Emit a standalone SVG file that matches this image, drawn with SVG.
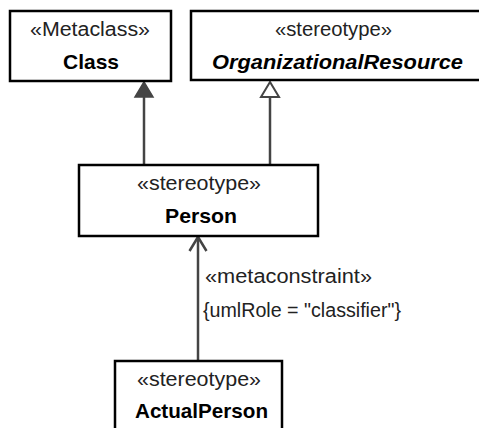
<svg xmlns="http://www.w3.org/2000/svg" width="479" height="428" viewBox="0 0 479 428">
<style>
.box{fill:#fff;stroke:#000;stroke-width:2.5}
.st{font-family:"Liberation Sans",Arial,sans-serif;font-size:19.5px;fill:#222}
.nm{font-family:"Liberation Sans",Arial,sans-serif;font-size:20.5px;font-weight:bold;fill:#000}
.it{font-style:italic}
.ln{stroke:#444;stroke-width:2.5;fill:none}
</style>
<rect width="479" height="428" fill="#fff"/>
<g id="connectors">
<line class="ln" x1="144" y1="165" x2="144" y2="96"/>
<polygon points="144,82 135,97 153,97" fill="#444" stroke="#444" stroke-width="1.5" stroke-linejoin="miter"/>
<line class="ln" x1="270" y1="165" x2="270" y2="97"/>
<polygon points="270,82 261,97 279,97" fill="#fff" stroke="#444" stroke-width="2"/>
<line class="ln" x1="198" y1="361" x2="198" y2="237"/>
<polyline class="ln" points="189.5,251 198,237 206.5,251"/>
<text class="st" x="205" y="283" textLength="167" lengthAdjust="spacingAndGlyphs">«metaconstraint»</text>
<text class="st" x="203" y="317" textLength="198" lengthAdjust="spacingAndGlyphs">{umlRole = "classifier"}</text>
</g>
<g id="class">
<rect class="box" x="10" y="11" width="161" height="70"/>
<text class="st" x="30" y="36" textLength="120" lengthAdjust="spacingAndGlyphs">«Metaclass»</text>
<text class="nm" x="63" y="68.5" textLength="56" lengthAdjust="spacingAndGlyphs">Class</text>
</g>
<g id="organizationalResource">
<rect class="box" x="191" y="11" width="300" height="69"/>
<text class="st" x="275" y="36" textLength="117" lengthAdjust="spacingAndGlyphs">«stereotype»</text>
<text class="nm it" x="212" y="68.5" textLength="251" lengthAdjust="spacingAndGlyphs">OrganizationalResource</text>
</g>
<g id="person">
<rect class="box" x="79" y="165" width="239" height="71"/>
<text class="st" x="137" y="190" textLength="124" lengthAdjust="spacingAndGlyphs">«stereotype»</text>
<text class="nm" x="165" y="222.5" textLength="72" lengthAdjust="spacingAndGlyphs">Person</text>
</g>
<g id="actualPerson">
<rect class="box" x="115" y="361" width="167" height="80"/>
<text class="st" x="137" y="386" textLength="124" lengthAdjust="spacingAndGlyphs">«stereotype»</text>
<text class="nm" x="135" y="418" textLength="133" lengthAdjust="spacingAndGlyphs">ActualPerson</text>
</g>
</svg>
